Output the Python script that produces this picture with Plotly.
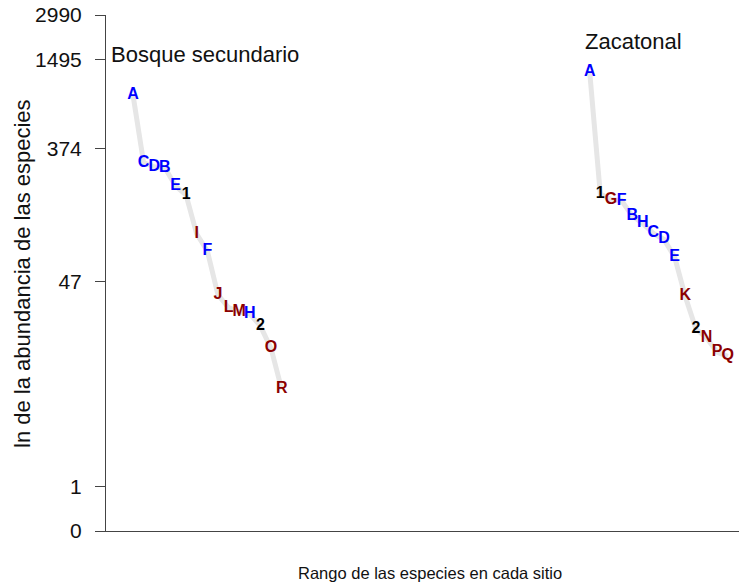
import numpy as np
import plotly.graph_objects as go

# ---- data ----
bosque_species = ["A", "C", "D", "B", "E", "1", "I", "F", "J", "L", "M", "H", "2", "O", "R"]
bosque_abund = [864, 302, 283, 279, 210, 182, 99, 76, 38, 31, 29, 28, 23, 16, 8]
bosque_colors = ["blue", "blue", "blue", "blue", "blue", "black", "darkred", "blue",
                 "darkred", "darkred", "darkred", "blue", "black", "darkred", "darkred"]

zacat_species = ["A", "1", "G", "F", "B", "H", "C", "D", "E", "K", "2", "N", "P", "Q"]
zacat_abund = [1241, 185, 170, 167, 132, 117, 100, 91, 69, 37, 22, 19, 15, 14]
zacat_colors = ["blue", "black", "darkred", "blue", "blue", "blue", "blue", "blue",
                "blue", "darkred", "black", "darkred", "darkred", "darkred"]

site_names = ["Bosque secundario", "Zacatonal"]
y_tick_values = [0, 1, 47, 374, 1495, 2990]

COLMAP = {"blue": "#0000FF", "darkred": "#8B0000", "black": "#000000"}

W, H = 739, 583
ML, MR, MT, MB = 106, 0, 15, 52

def tr(v):
    return np.log10(np.asarray(v, dtype=float) + 1)

fig = go.Figure()
offsets = [0, 43]
sites = [(bosque_species, bosque_abund, bosque_colors),
         (zacat_species, zacat_abund, zacat_colors)]
for off, (sp, ab, cols) in zip(offsets, sites):
    xs = [i + 1 + off for i in range(len(sp))]
    ys = tr(ab)
    fig.add_trace(go.Scatter(x=xs, y=ys, mode="lines",
                             line=dict(color="#e6e6e6", width=5),
                             hoverinfo="skip", showlegend=False))
    fig.add_trace(go.Scatter(x=xs, y=ys, mode="text", text=sp,
                             textposition="middle center", cliponaxis=False,
                             textfont=dict(family="Liberation Sans, Arial", size=16,
                                           color=[COLMAP[c] for c in cols], weight="bold"),
                             showlegend=False))

xr = [-1.542, 58.06]
yr = [0, float(tr(2990)) + 1e-6]

PW = W - ML - MR
PH = H - MT - MB

fig.update_layout(
    width=W, height=H,
    margin=dict(l=ML, r=MR, t=MT, b=MB),
    paper_bgcolor="white", plot_bgcolor="white",
    font=dict(family="Liberation Sans, Arial", color="black"),
    xaxis=dict(range=xr, showgrid=False, zeroline=False, showline=True,
               linecolor="#444", linewidth=1, showticklabels=False, ticks=""),
    yaxis=dict(range=yr, showgrid=False, zeroline=False, showline=True,
               linecolor="#444", linewidth=1,
               tickvals=list(tr(y_tick_values)), ticktext=[str(v) for v in y_tick_values],
               ticks="outside", ticklen=10, tickcolor="#444", tickwidth=1,
               tickfont=dict(size=21, color="#111"), ticklabelstandoff=9,
               ticklabeloverflow="allow"),
    annotations=[
        dict(text=site_names[0], xref="x", yref="y", x=-1.26, y=3.207,
             xanchor="left", yanchor="middle", showarrow=False,
             font=dict(size=22, color="#111")),
        dict(text=site_names[1], xref="x", yref="y", x=43.37, y=3.294,
             xanchor="left", yanchor="middle", showarrow=False,
             font=dict(size=22, color="#111")),
        dict(text="ln de la abundancia de las especies", xref="paper", yref="paper",
             x=(22 - ML) / PW, y=(H - MB - 274) / PH,
             textangle=-90, showarrow=False, xanchor="center", yanchor="middle",
             font=dict(size=22, color="#111")),
        dict(text="Rango de las especies en cada sitio", xref="paper", yref="paper",
             x=(430 - ML) / PW, y=-(573 - (H - MB)) / PH,
             showarrow=False, xanchor="center", yanchor="middle",
             font=dict(size=16.5, color="#111")),
    ],
)

fig.write_html("out.html",
               config={"displayModeBar": False},
               post_script="document.body.style.margin='0';document.body.style.overflow='hidden';")
